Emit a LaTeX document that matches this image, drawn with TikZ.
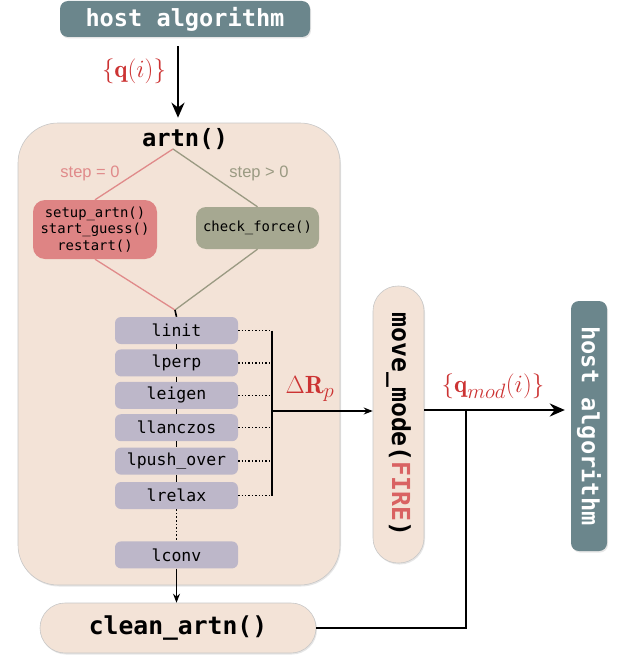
\documentclass[tikz,border=0pt]{standalone}
\usepackage{amsmath,amssymb}
\usepackage{fontspec}
\setmonofont{DejaVu Sans Mono}
\setsansfont{Liberation Sans}
\usepackage{xcolor}
\usetikzlibrary{positioning,arrows.meta,shadows}

\definecolor{hostgray}{HTML}{6B868C}
\definecolor{peach}{HTML}{F3E3D7}
\definecolor{setupred}{HTML}{DE8484}
\definecolor{checkgreen}{HTML}{A6A891}
\definecolor{lstep}{HTML}{BDB7C9}
\definecolor{labelred}{HTML}{CC3333}
\definecolor{firered}{HTML}{D96262}
\definecolor{zerored}{HTML}{E08A8A}
\definecolor{posgreen}{HTML}{9A9A82}

\begin{document}
\begin{tikzpicture}[x=1pt, y=-1pt,
  soft/.style={drop shadow={opacity=0.2, shadow xshift=1pt, shadow yshift=-1.5pt}},
  host/.style={rectangle, rounded corners=8pt, fill=hostgray, text=white, soft,
    font=\ttfamily\bfseries\fontsize{23.6}{26}\selectfont, inner sep=0pt},
  peachbox/.style={rectangle, fill=peach, draw=black!22, line width=0.6pt, soft, inner sep=0pt},
  setupbox/.style={rectangle, rounded corners=12pt, fill=setupred, align=center,
    font=\ttfamily\fontsize{13.9}{16.5}\selectfont, minimum width=124pt, minimum height=59pt, inner sep=0pt},
  checkbox/.style={rectangle, rounded corners=10pt, fill=checkgreen,
    font=\ttfamily\fontsize{13.9}{16.5}\selectfont, minimum width=123pt, minimum height=42pt, inner sep=0pt},
  lbox/.style={rectangle, rounded corners=6pt, fill=lstep, minimum width=123pt, minimum height=27pt,
    font=\ttfamily\fontsize{16.5}{18}\selectfont, inner sep=0pt},
  steplbl/.style={font=\sffamily\fontsize{16.5}{18}\selectfont},
  mathlbl/.style={text=labelred, font=\fontsize{24.88}{28}\selectfont},
  spine/.style={line width=1.6pt},
  thinarrow/.style={line width=1.4pt, -{Stealth[length=9pt,width=7pt]}},
  thickarrow/.style={line width=2.6pt, -{Stealth[length=15pt,width=13pt]}},
]
\useasboundingbox (0,0) rectangle (624,661);

% host side
\node[host, minimum width=250pt, minimum height=36pt] (host1) at (185,19) {host algorithm};
\node[host, rotate=-90, minimum width=250pt, minimum height=36pt] (host2) at (589,426) {host algorithm};

% artn block
\node[peachbox, rounded corners=40pt, minimum width=322pt, minimum height=462pt] (artn) at (179,354) {};
\node[font=\ttfamily\bfseries\fontsize{23.8}{26}\selectfont] (artntitle) at (185,139) {artn()};

\coordinate (split) at (173,149);
\coordinate (merge) at (175,310);

\node[setupbox] (setup) at (95,229.5) {setup\_artn()\\start\_guess()\\restart()};
\node[checkbox] (check) at (257.5,228) {check\_force()};
\node[steplbl, text=zerored] (zerolbl) at (90,173) {step = 0};
\node[steplbl, text=posgreen] (poslbl) at (259,173) {step > 0};

\draw[zerored, line width=1.3pt] (split) -- (setup.north) (setup.south) -- (merge);
\draw[posgreen, line width=1.3pt] (split) -- (check.north) (check.south) -- (merge);

% lammps-like steps
\node[lbox] (linit) at (176.5,330.5) {linit};
\node[lbox, below=5pt of linit] (lperp) {lperp};
\node[lbox, below=5pt of lperp] (leigen) {leigen};
\node[lbox, below=5pt of leigen] (llanczos) {llanczos};
\node[lbox, below=6pt of llanczos] (lpush) {lpush\_over};
\node[lbox, below=7pt of lpush] (lrelax) {lrelax};
\node[lbox, below=32pt of lrelax] (lconv) {lconv};

\path[spine]
  (merge) edge (linit.north)
  (linit) edge (lperp)
  (lperp) edge (leigen)
  (leigen) edge (llanczos)
  (llanczos) edge (lpush)
  (lpush) edge (lrelax)
  (lrelax) edge[dotted] (lconv);

% displacement bus
\coordinate (bus) at (272,411);
\foreach \s in {linit,lperp,leigen,llanczos,lpush,lrelax}
  \draw[dotted, line width=1.4pt] (\s.east) -- (\s.east -| bus);
\draw[spine] (linit.east -| bus) -- (lrelax.east -| bus);

% move and clean
\node[peachbox, rotate=-90, rounded corners=25pt, minimum width=277pt, minimum height=51pt,
  font=\ttfamily\bfseries\fontsize{24.8}{27}\selectfont] (move) at (398.5,424.5)
  {move\_mode(\textcolor{firered}{FIRE})};
\node[peachbox, rounded corners=25pt, minimum width=276pt, minimum height=50pt,
  font=\ttfamily\bfseries\fontsize{24.7}{27}\selectfont] (clean) at (178,628) {clean\_artn()};

\draw[thinarrow] (bus) -- (bus -| move.south);
\node[mathlbl] (dR) at (310,389) {$\Delta\mathbf{R}_p$};

\coordinate (qin) at (178,0);
\coordinate (join) at (466,410);
\draw[thickarrow, shorten <=9pt, shorten >=5pt] (host1.south -| qin) -- (artn.north -| qin);
\node[mathlbl] (qlbl) at (134,71) {$\{\mathbf{q}(i)\}$};

\draw[thinarrow] (lconv.south) -- (lconv.south |- clean.north);

\draw[thickarrow, shorten >=6pt] (join -| move.north) -- (join -| host2.south);
\draw[line width=2.6pt] (clean.east) -| (join);
\node[mathlbl] (qmod) at (493,386) {$\{\mathbf{q}_{mod}(i)\}$};

\end{tikzpicture}
\end{document}
